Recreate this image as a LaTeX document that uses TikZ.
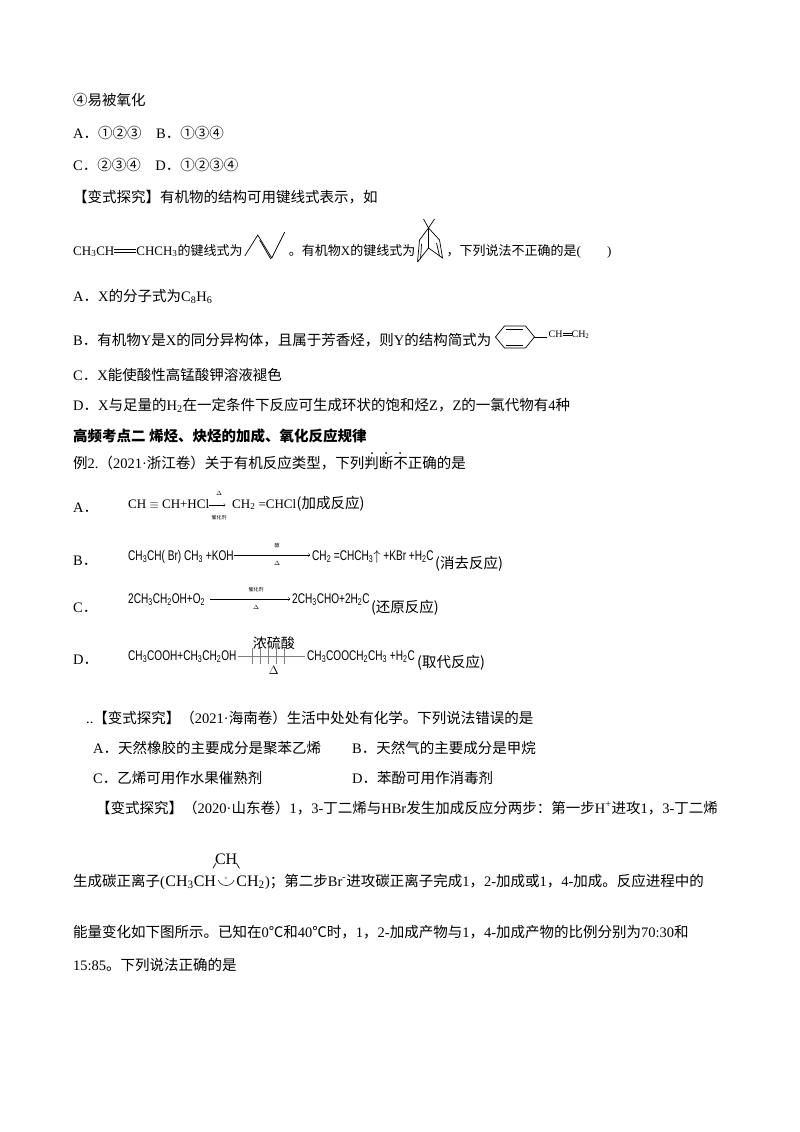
\documentclass[tikz,border=0pt]{standalone}
\usepackage{fontspec}
\usetikzlibrary{calc}
\setmainfont{Noto Sans CJK SC}
\newfontfamily\lt{Liberation Serif}
\newfontfamily\lsans{Liberation Sans}[FakeStretch=0.72]
\begin{document}
\begin{tikzpicture}[x=1pt,y=-1pt,
  t/.style={anchor=base west,inner sep=0pt,font=\fontsize{14.5}{16}\selectfont},
  eq/.style={anchor=base west,inner sep=0pt,font=\lsans\fontsize{14}{16}\selectfont},
  bond/.style={line width=0.7pt}]
\useasboundingbox (0,0) rectangle (800,1132);
\fill[white] (0,0) rectangle (800,1132);
\node[t] (l1) at (73,105) {④易被氧化};
\node[t] (l2) at (73,138) {{\lt A}．①②③\quad{\lt B}．①③④};
\node[t] (l3) at (73,170) {{\lt C}．②③④\quad{\lt D}．①②③④};
\node[t] (l4) at (73,202) {【变式探究】有机物的结构可用键线式表示，如};
\node[t,font=\fontsize{13}{16}\selectfont] (l5) at (73,255) {{\lt CH\textsubscript{3}CH\rule[3pt]{22pt}{0.5pt}\llap{\rule[5.5pt]{22pt}{0.5pt}}CHCH\textsubscript{3}}的键线式为};
\begin{scope}[shift={(l5.base east)}]
\draw[bond] (2,1) -- (15,-20) -- (29,3) -- (42,-23);
\draw[bond] (17,-15) -- (28,4);
\end{scope}
\node[t,font=\fontsize{13}{16}\selectfont] (l5b) at ($(l5.base east)+(46,0)$) {。有机物{\lt X}的键线式为};
\begin{scope}[shift={(l5b.base east)}]
\draw[bond] (2,7) -- (4,-15) -- (13,-27) -- (24,-15) -- (27,3) -- (13,-7) -- (2,7);
\draw[bond] (13,-27) -- (13,-7);
\draw[bond] (6,-11) -- (5,4);
\draw[bond] (21,-12) -- (24,1);
\draw[bond] (13,-27) -- (8,-36) (13,-27) -- (19,-36);
\end{scope}
\node[t,font=\fontsize{13}{16}\selectfont] (l5c) at ($(l5b.base east)+(31,0)$) {，下列说法不正确的是{\lt (\qquad)}};
\node[t] (l6) at (73,301) {{\lt A}．{\lt X}的分子式为{\lt C\textsubscript{8}H\textsubscript{6}}};
\node[t] (l7) at (73,345) {{\lt B}．有机物{\lt Y}是{\lt X}的同分异构体，且属于芳香烃，则{\lt Y}的结构简式为};
\begin{scope}[shift={($(l7.base east)+(4,-8)$)}]
\draw[bond] (0,0) -- (9,-11) -- (30,-11) -- (39,0) -- (30,11) -- (9,11) -- cycle;
\draw[bond] (11,-8) -- (28,-8) (11,8) -- (28,8);
\draw[bond] (39,0) -- (52,0);
\node[anchor=base west,inner sep=0pt,font=\lt\fontsize{10}{12}\selectfont] (cy) at (53,0) {CH\rule[2pt]{9pt}{0.4pt}\llap{\rule[4pt]{9pt}{0.4pt}}CH\textsubscript{2}};
\end{scope}
\node[t] (l8) at (73,380) {{\lt C}．{\lt X}能使酸性高锰酸钾溶液褪色};
\node[t] (l9) at (73,410) {{\lt D}．{\lt X}与足量的{\lt H\textsubscript{2}}在一定条件下反应可生成环状的饱和烃{\lt Z}，{\lt Z}的一氯代物有{\lt 4}种};
\node[t,font=\bfseries\fontsize{14.5}{16}\selectfont] (h2) at (73,441) {高频考点二\ 烯烃、炔烃的加成、氧化反应规律};
\node[t] (e2) at (73,468) {例{\lt 2.}（{\lt 2021·}浙江卷）关于有机反应类型，下列判断不正确的是};
\foreach \xx in {372,386,400} \fill (\xx,453) circle (1pt);
% A
\node[t] (ea) at (73,512) {{\lt A}．};
\node[eq,font=\lt\fontsize{13}{14}\selectfont] (ea1) at (128,508) {CH $\equiv$ CH+HCl};
\node[font=\lt\fontsize{6}{7}\selectfont] (ead) at (219,493) {$\Delta$};
\node[font=\fontsize{5}{6}\selectfont] (eac) at (219,518) {催化剂};
\draw[->] (ea1.east |- 0,505) -- +(16,0);
\node[eq,font=\lt\fontsize{13}{14}\selectfont] (ea2) at (232,508) {CH\textsubscript{2} =CHCl};
\node[t] (ea3) at (ea2.base east) {(加成反应)};
% B
\node[t] (eb) at (73,565) {{\lt B}．};
\node[eq] (eb1) at (128,560) {CH\textsubscript{3}CH( Br) CH\textsubscript{3} +KOH};
\draw[->] (eb1.east |- 0,555) -- (310,555);
\node[font=\fontsize{5}{6}\selectfont] at (277,546) {醇};
\node[font=\lt\fontsize{6}{7}\selectfont] at (277,563) {$\Delta$};
\node[eq] (eb2) at (312,560) {CH\textsubscript{2} =CHCH\textsubscript{3}$\uparrow$ +KBr +H\textsubscript{2}C};
\node[t] (eb3) at ($(eb2.base east)+(1,8)$) {(消去反应)};
% C
\node[t] (ec) at (73,612) {{\lt C}．};
\node[eq] (ec1) at (128,603) {2CH\textsubscript{3}CH\textsubscript{2}OH+O\textsubscript{2}};
\draw[->] ($(ec1.east |- 0,599)+(5,0)$) -- (290,599);
\node[font=\fontsize{5}{6}\selectfont] at (256,590) {催化剂};
\node[font=\lt\fontsize{6}{7}\selectfont] at (256,607) {$\Delta$};
\node[eq] (ec2) at (292,603) {2CH\textsubscript{3}CHO+2H\textsubscript{2}C};
\node[t] (ec3) at ($(ec2.base east)+(1,9)$) {(还原反应)};
% D
\node[t] (ed) at (73,664) {{\lt D}．};
\node[eq] (ed1) at (128,660) {CH\textsubscript{3}COOH+CH\textsubscript{3}CH\textsubscript{2}OH};
\node[t,font=\fontsize{14}{16}\selectfont] (edt) at ($(ed1.base east)+(16,-12)$) {浓硫酸};
\draw[line width=0.4pt,gray] ($(ed1.base east)+(1,-4)$) -- ($(edt.base east)+(10,8)$);
\foreach \xx in {10,18,26,34,42} \draw[gray,line width=0.3pt] ($(edt.base west)+(\xx-10,0)$) -- +(0,16);
\node[font=\lt\fontsize{12}{14}\selectfont] (edd) at ($(edt.base)+(0,22)$) {$\Delta$};
\node[eq] (ed2) at ($(edt.base east)+(12,12)$) {CH\textsubscript{3}COOCH\textsubscript{2}CH\textsubscript{3} +H\textsubscript{2}C};
\node[t] (ed3) at ($(ed2.base east)+(2,7)$) {(取代反应)};
% variant 2021
\node[t] (v1) at (86,723) {{\lt ..}【变式探究】（{\lt 2021·}海南卷）生活中处处有化学。下列说法错误的是};
\node[t] (v1a) at (93,753) {{\lt A}．天然橡胶的主要成分是聚苯乙烯};
\node[t] (v1b) at (352,753) {{\lt B}．天然气的主要成分是甲烷};
\node[t] (v1c) at (93,783) {{\lt C}．乙烯可用作水果催熟剂};
\node[t] (v1d) at (352,783) {{\lt D}．苯酚可用作消毒剂};
\node[t] (v2) at (96,813) {【变式探究】（{\lt 2020·}山东卷）{\lt 1}，{\lt 3-}丁二烯与{\lt HBr}发生加成反应分两步：第一步{\lt H\textsuperscript{+}}进攻{\lt 1}，{\lt 3-}丁二烯};
\node[t] (v3) at (73,886) {生成碳正离子{\lt (}};
\node[anchor=base west,inner sep=0pt,font=\lt\fontsize{16}{18}\selectfont] (catA) at (v3.base east) {CH\textsubscript{3}CH};
\node[anchor=base west,inner sep=0pt,font=\lt\fontsize{16}{18}\selectfont] (catB) at ($(catA.base east)+(20,0)$) {CH\textsubscript{2}};
\node[anchor=base,inner sep=0pt,font=\lt\fontsize{16}{18}\selectfont] (catC) at ($(catA.base east)!0.5!(catB.base west)+(0,-22)$) {CH};
\draw[bond] ($(catC.south west)+(-2,4)$) -- +(3,-5) ($(catC.south east)+(2,4)$) -- +(-3,-5);
\draw[line width=0.5pt] ($(catA.base east)+(2,-6)$) arc (160:20:8.5);
\node[font=\lt\fontsize{6}{7}\selectfont] at ($(catA.base east)+(10,-7)$) {+};
\node[t] (v3b) at (catB.base east) {{\lt )}；第二步{\lt Br\textsuperscript{-}}进攻碳正离子完成{\lt 1}，{\lt 2-}加成或{\lt 1}，{\lt 4-}加成。反应进程中的};
\node[t] (v4) at (73,937) {能量变化如下图所示。已知在{\lt 0}℃和{\lt 40}℃时，{\lt 1}，{\lt 2-}加成产物与{\lt 1}，{\lt 4-}加成产物的比例分别为{\lt 70:30}和};
\node[t] (v5) at (73,970) {{\lt 15:85}。下列说法正确的是};
\end{tikzpicture}
\end{document}
